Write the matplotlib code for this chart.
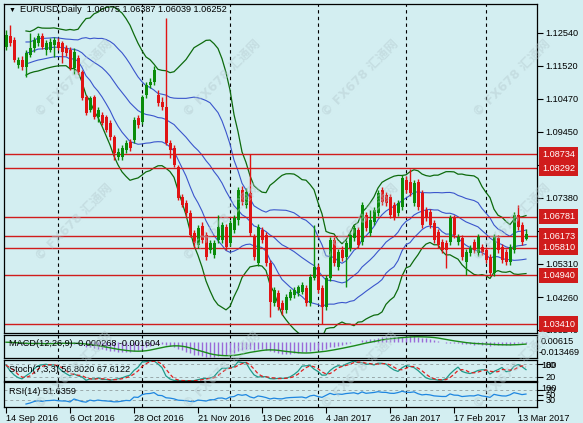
import numpy as np
import pandas as pd
import matplotlib
matplotlib.use('Agg')
import matplotlib.pyplot as plt

# Daily EURUSD bars, 14 Sep 2016 .. 15 Mar 2017 (one entry per trading day)
opens = [1.1210, 1.1245, 1.1232, 1.1154, 1.1169, 1.1147, 1.1185, 1.1207, 1.1223, 1.1245,
         1.1201, 1.1201, 1.1216, 1.1226, 1.1223, 1.1207, 1.1201, 1.1144, 1.1176, 1.1132,
         1.1053, 1.1013, 1.1053, 1.0991, 1.0997, 1.0991, 1.0972, 1.0928, 1.0865, 1.0865,
         1.0887, 1.0912, 1.0918, 1.0988, 1.0975, 1.1060, 1.1091, 1.1100, 1.1060, 1.1038,
         1.1022, 1.0909, 1.0893, 1.0834, 1.0740, 1.0721, 1.0690, 1.0627, 1.0589, 1.0649,
         1.0621, 1.0574, 1.0558, 1.0605, 1.0605, 1.0646, 1.0595, 1.0636, 1.0668, 1.0762,
         1.0715, 1.0752, 1.0614, 1.0533, 1.0636, 1.0621, 1.0533, 1.0407, 1.0439, 1.0407,
         1.0385, 1.0423, 1.0432, 1.0439, 1.0442, 1.0454, 1.0407, 1.0486, 1.0520, 1.0454,
         1.0395, 1.0486, 1.0605, 1.0520, 1.0574, 1.0552, 1.0580, 1.0611, 1.0636, 1.0599,
         1.0683, 1.0627, 1.0661, 1.0690, 1.0762, 1.0746, 1.0740, 1.0715, 1.0690, 1.0708,
         1.0793, 1.0787, 1.0721, 1.0787, 1.0752, 1.0699, 1.0693, 1.0658, 1.0630, 1.0599,
         1.0595, 1.0599, 1.0674, 1.0599, 1.0611, 1.0536, 1.0564, 1.0599, 1.0564, 1.0583,
         1.0574, 1.0552, 1.0502, 1.0611, 1.0583, 1.0567, 1.0536, 1.0574, 1.0683, 1.0652,
         1.06075]
highs = [1.1263, 1.1279, 1.1241, 1.1179, 1.1182, 1.1201, 1.1254, 1.1241, 1.1254, 1.1254,
         1.1232, 1.1238, 1.1241, 1.1238, 1.1229, 1.1216, 1.1210, 1.1207, 1.1185, 1.1138,
         1.1060, 1.1057, 1.1060, 1.1022, 1.1006, 1.0997, 1.0981, 1.0934, 1.0893, 1.0903,
         1.0918, 1.0922, 1.0991, 1.0997, 1.1060, 1.1100, 1.1113, 1.1150, 1.1075, 1.1053,
         1.1301, 1.0918, 1.0903, 1.0840, 1.0749, 1.0730, 1.0699, 1.0636, 1.0652, 1.0661,
         1.0630, 1.0605, 1.0605, 1.0683, 1.0661, 1.0655, 1.0668, 1.0683, 1.0771, 1.0774,
         1.0768, 1.0873, 1.0624, 1.0655, 1.0646, 1.0630, 1.0542, 1.0457, 1.0448, 1.0417,
         1.0436, 1.0451, 1.0457, 1.0464, 1.0473, 1.0464, 1.0498, 1.0652, 1.0530, 1.0464,
         1.0495, 1.0614, 1.0614, 1.0577, 1.0586, 1.0605, 1.0630, 1.0652, 1.0646, 1.0724,
         1.0693, 1.0699, 1.0708, 1.0762, 1.0771, 1.0755, 1.0749, 1.0724, 1.0730, 1.0809,
         1.0805, 1.0828, 1.0793, 1.0796, 1.0762, 1.0708, 1.0702, 1.0668, 1.0640, 1.0608,
         1.0605, 1.0683, 1.0683, 1.0624, 1.0621, 1.0577, 1.0589, 1.0608, 1.0624, 1.0592,
         1.0583, 1.0561, 1.0624, 1.0621, 1.0592, 1.0577, 1.0592, 1.0693, 1.0715, 1.0661,
         1.06387]
lows = [1.1201, 1.1213, 1.1163, 1.1144, 1.1138, 1.1116, 1.1179, 1.1194, 1.1213, 1.1204,
        1.1185, 1.1194, 1.1179, 1.1201, 1.1160, 1.1182, 1.1138, 1.1125, 1.1125, 1.1044,
        1.0997, 1.1006, 1.0984, 1.0975, 1.0966, 1.0944, 1.0918, 1.0856, 1.0856, 1.0856,
        1.0878, 1.0884, 1.0909, 1.0956, 1.0969, 1.1050, 1.1082, 1.1091, 1.1025, 1.1013,
        1.0903, 1.0862, 1.0834, 1.0730, 1.0708, 1.0680, 1.0614, 1.0583, 1.0580, 1.0595,
        1.0542, 1.0564, 1.0549, 1.0595, 1.0595, 1.0574, 1.0586, 1.0627, 1.0652, 1.0715,
        1.0705, 1.0617, 1.0542, 1.0524, 1.0595, 1.0524, 1.0363, 1.0398, 1.0385, 1.0370,
        1.0376, 1.0417, 1.0423, 1.0429, 1.0436, 1.0398, 1.0398, 1.0479, 1.0439, 1.0341,
        1.0385, 1.0476, 1.0524, 1.0511, 1.0539, 1.0457, 1.0570, 1.0602, 1.0580, 1.0589,
        1.0633, 1.0617, 1.0652, 1.0680, 1.0715, 1.0711, 1.0674, 1.0668, 1.0680, 1.0699,
        1.0752, 1.0743, 1.0711, 1.0699, 1.0643, 1.0664, 1.0643, 1.0595, 1.0580, 1.0564,
        1.0517, 1.0589, 1.0611, 1.0589, 1.0542, 1.0495, 1.0555, 1.0564, 1.0555, 1.0558,
        1.0533, 1.0492, 1.0492, 1.0564, 1.0533, 1.0527, 1.0527, 1.0564, 1.0636, 1.0589,
        1.06039]
closes = [1.1248, 1.1223, 1.1169, 1.1169, 1.1147, 1.1191, 1.1207, 1.1232, 1.1245, 1.1210,
          1.1223, 1.1226, 1.1232, 1.1207, 1.1194, 1.1191, 1.1144, 1.1194, 1.1132, 1.1050,
          1.1003, 1.1050, 1.0991, 1.1013, 1.0972, 1.0950, 1.0928, 1.0878, 1.0881, 1.0893,
          1.0909, 1.0893, 1.0981, 1.0966, 1.1053, 1.1091, 1.1100, 1.1138, 1.1035, 1.1022,
          1.0909, 1.0887, 1.0840, 1.0737, 1.0715, 1.0690, 1.0621, 1.0595, 1.0643, 1.0605,
          1.0552, 1.0595, 1.0595, 1.0646, 1.0652, 1.0583, 1.0658, 1.0674, 1.0762, 1.0724,
          1.0755, 1.0627, 1.0552, 1.0646, 1.0605, 1.0533, 1.0410, 1.0448, 1.0395, 1.0385,
          1.0426, 1.0442, 1.0448, 1.0457, 1.0464, 1.0407, 1.0489, 1.0520, 1.0448, 1.0395,
          1.0486, 1.0605, 1.0533, 1.0567, 1.0549, 1.0595, 1.0621, 1.0643, 1.0589, 1.0715,
          1.0643, 1.0668, 1.0699, 1.0752, 1.0724, 1.0721, 1.0683, 1.0677, 1.0721, 1.0799,
          1.0762, 1.0752, 1.0784, 1.0708, 1.0652, 1.0674, 1.0652, 1.0605, 1.0589, 1.0574,
          1.0574, 1.0674, 1.0621, 1.0614, 1.0552, 1.0567, 1.0580, 1.0574, 1.0614, 1.0567,
          1.0542, 1.0502, 1.0614, 1.0574, 1.0542, 1.0536, 1.0583, 1.0683, 1.0646, 1.0599,
          1.06252]

date_ticks = [0, 16, 32, 48, 64, 80, 96, 112, 128]
date_labels = ['14 Sep 2016', '6 Oct 2016', '28 Oct 2016', '21 Nov 2016', '13 Dec 2016',
               '4 Jan 2017', '26 Jan 2017', '17 Feb 2017', '13 Mar 2017']
month_starts = [13, 34, 56, 78, 100, 120]
levels = [1.08734, 1.08292, 1.06781, 1.06173, 1.05810, 1.04940, 1.03410]
price_ticks = [1.12540, 1.11520, 1.10470, 1.09450, 1.08400, 1.07380, 1.06330,
               1.05310, 1.04260, 1.03240]

BG = '#d3eef1'
CANDLE_UP = '#0a8c0a'
CANDLE_DN = '#e01414'
LEVEL = '#d01c1c'
BAND_G = '#0d6a0d'
BAND_B = '#3a55cc'
FS = 6.6

plt.rcParams['font.family'] = ['Liberation Sans', 'DejaVu Sans']
plt.rcParams['font.size'] = FS

W, H = 583, 423


def box(x0, y0, x1, y1):
    # pixel rectangle -> figure fraction
    return [x0 / W, 1 - y1 / H, (x1 - x0) / W, (y1 - y0) / H]


df = pd.DataFrame({'o': opens, 'h': highs, 'l': lows, 'c': closes})
n = len(df)
x = np.arange(n)

# indicators
mid = df.c.rolling(20, min_periods=6).mean()
sd = df.c.rolling(20, min_periods=6).std(ddof=0)
ema12 = df.c.ewm(span=12, adjust=False).mean()
ema26 = df.c.ewm(span=26, adjust=False).mean()
macd = ema12 - ema26
signal = macd.rolling(9, min_periods=1).mean()
ll = df.l.rolling(7, min_periods=1).min()
hh = df.h.rolling(7, min_periods=1).max()
k = 100 * (df.c - ll).rolling(3, min_periods=1).sum() / (hh - ll).rolling(3, min_periods=1).sum()
d = k.rolling(3, min_periods=1).mean()
delta = df.c.diff()
gain = delta.clip(lower=0).ewm(alpha=1 / 14, adjust=False, min_periods=5).mean()
loss = (-delta.clip(upper=0)).ewm(alpha=1 / 14, adjust=False, min_periods=5).mean()
rsi = 100 - 100 / (1 + gain / loss)

fig = plt.figure(figsize=(W / 100, H / 100), dpi=100, facecolor=BG)
ax = fig.add_axes(box(4, 4, 537, 333))
ax_macd = fig.add_axes(box(4, 335, 537, 358), sharex=ax)
ax_st = fig.add_axes(box(4, 360, 537, 381), sharex=ax)
ax_rsi = fig.add_axes(box(4, 382, 537, 407), sharex=ax)

for a in (ax, ax_macd, ax_st, ax_rsi):
    a.set_facecolor(BG)
    for s in a.spines.values():
        s.set_linewidth(0.9)
        s.set_color('black')
    a.yaxis.tick_right()
    a.tick_params(axis='y', direction='out', length=4, width=0.8, pad=2, labelsize=FS)
    a.tick_params(axis='x', bottom=False, labelbottom=False)
    for m in month_starts:
        a.axvline(m, color='black', lw=0.8, ls=(0, (3, 3)), zorder=1)

ax.set_xlim(-0.5, 132.75)

# main price panel
up = df.c >= df.o
cols = np.where(up, CANDLE_UP, CANDLE_DN)
ax.vlines(x, df.l, df.h, colors=cols, lw=1, zorder=3)
body = np.maximum((df.c - df.o).abs(), 0.00025)
ax.bar(x, body, bottom=np.minimum(df.o, df.c), width=0.75, color=cols, linewidth=0, zorder=3)

ax.plot(x, mid + 2 * sd, color=BAND_G, lw=0.9, zorder=2)
ax.plot(x, mid - 2 * sd, color=BAND_G, lw=0.9, zorder=2)
ax.plot(x, mid + sd, color=BAND_B, lw=0.8, zorder=2)
ax.plot(x, mid, color=BAND_B, lw=0.8, zorder=2)
ax.plot(x, mid - sd, color=BAND_B, lw=0.8, zorder=2)

for lv in levels:
    ax.axhline(lv, color=LEVEL, lw=1, zorder=2.5)
    ax.text(1 + 5 / 533, lv, '%.5f' % lv, transform=ax.get_yaxis_transform(),
            ha='left', va='center', color='white', fontsize=FS, clip_on=False, zorder=6,
            bbox=dict(boxstyle='square,pad=0.35', fc=LEVEL, ec='none'))

ax.set_ylim(1.03132, 1.13449)
ax.set_yticks(price_ticks)
ax.set_yticklabels(['%.5f' % t for t in price_ticks])

# MACD
ax_macd.vlines(x, 0, macd, color='#9a6ad8', lw=1)
ax_macd.plot(x, signal, color='#1a8a1a', lw=1)
ax_macd.set_ylim(-0.013469, 0.00615)
ax_macd.set_yticks([])
fig.text(541 / W, 1 - 342 / H, '0.00615', ha='left', va='center', fontsize=FS)
fig.text(539 / W, 1 - 352 / H, '-0.013469', ha='left', va='center', fontsize=FS)

# Stochastic
ax_st.axhline(80, color='#9aa8aa', lw=0.7, ls=(0, (3, 3)))
ax_st.axhline(20, color='#9aa8aa', lw=0.7, ls=(0, (3, 3)))
ax_st.plot(x, k, color='#1f9a8a', lw=0.9)
ax_st.plot(x, d, color='#e02020', lw=0.9, ls=(0, (3, 2)))
ax_st.set_ylim(0, 100)
ax_st.set_yticks([80, 20])
ax_st.set_yticklabels(['80', '20'])
fig.text(541 / W, 1 - 365 / H, '100', ha='left', va='center', fontsize=FS)

# RSI
ax_rsi.axhline(70, color='#9aa8aa', lw=0.7, ls=(0, (3, 3)))
ax_rsi.axhline(30, color='#9aa8aa', lw=0.7, ls=(0, (3, 3)))
ax_rsi.plot(x, rsi, color='#1e86e0', lw=0.9)
ax_rsi.set_ylim(0, 100)
ax_rsi.set_yticks([70, 50, 30])
ax_rsi.set_yticklabels(['70', '50', '30'])
fig.text(541 / W, 1 - 388 / H, '100', ha='left', va='center', fontsize=FS)

ax_rsi.tick_params(axis='x', bottom=True, labelbottom=True, direction='out', length=4,
                   width=0.8, pad=1, labelsize=FS)
ax_rsi.set_xticks(date_ticks)
ax_rsi.set_xticklabels(date_labels, ha='left')

# header and indicator captions
fig.text(9 / W, 1 - 10 / H, '\u25bc', ha='left', va='center', fontsize=5)
fig.text(20 / W, 1 - 10 / H, 'EURUSD,Daily  1.06075 1.06387 1.06039 1.06252',
         ha='left', va='center', fontsize=FS)
fig.text(9 / W, 1 - 344 / H, 'MACD(12,26,9) -0.000268 -0.001604', ha='left', va='center', fontsize=FS)
fig.text(9 / W, 1 - 369 / H, 'Stoch(7,3,3) 56.8020 67.6122', ha='left', va='center', fontsize=FS)
fig.text(9 / W, 1 - 391 / H, 'RSI(14) 51.6359', ha='left', va='center', fontsize=FS)

# faint watermarks
for wy in [78, 222, 370]:
    for wx in [74, 222, 360, 512]:
        fig.text(wx / W, 1 - wy / H, '\u00a9 FX678 \u6c47\u901a\u7f51', rotation=45,
                 ha='center', va='center', fontsize=9, fontweight='bold',
                 color='#b4cacf', alpha=0.45, family=['DejaVu Sans', 'Noto Sans CJK SC'])

fig.savefig('out.png', dpi=100, facecolor=BG)
